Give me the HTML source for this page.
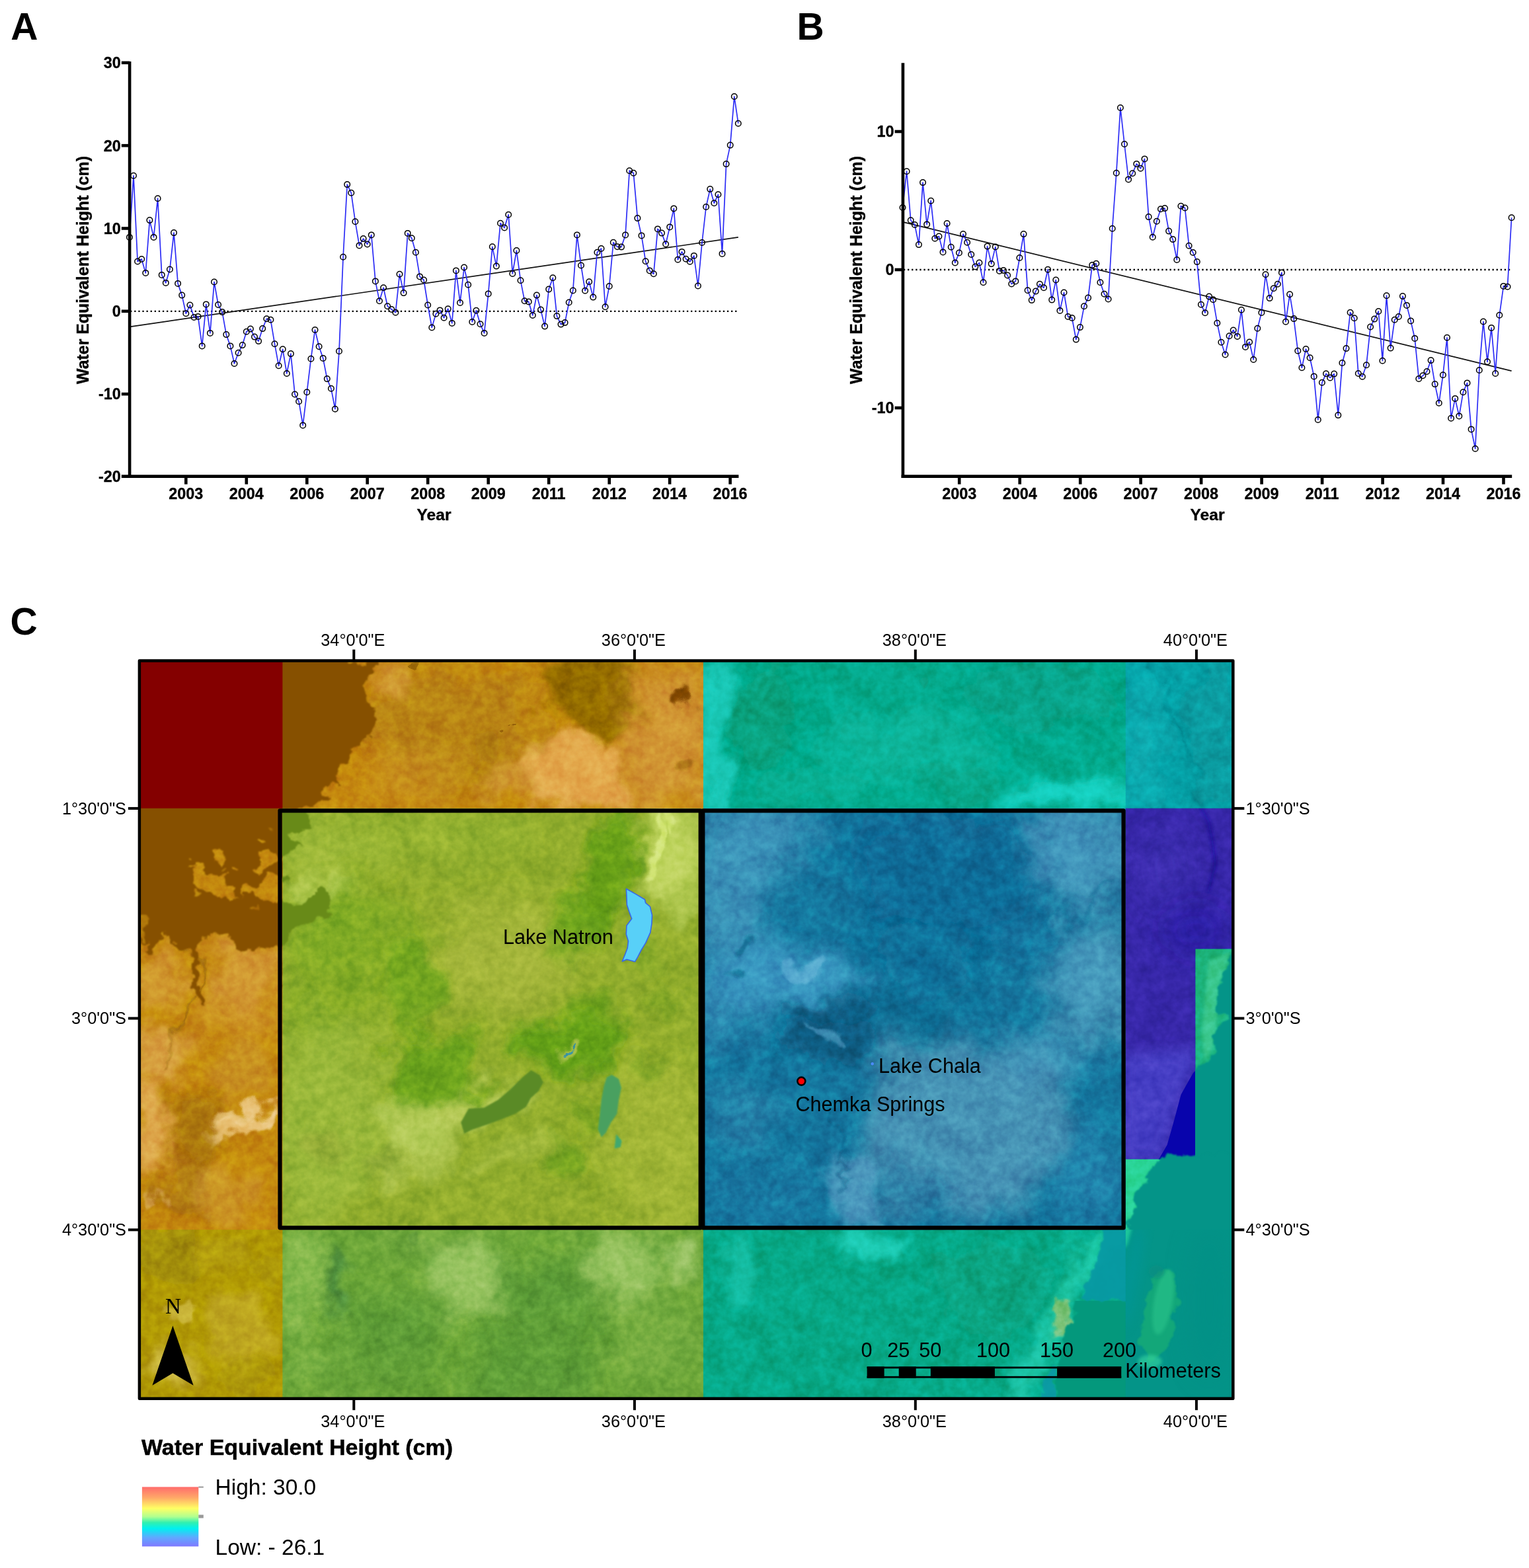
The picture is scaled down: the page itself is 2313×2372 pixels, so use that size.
<!DOCTYPE html>
<html lang="en"><head><meta charset="utf-8"><title>Water Equivalent Height</title>
<style>html,body{margin:0;padding:0;background:#fff}body{width:2313px;height:2372px;overflow:hidden}svg{display:block;filter:blur(0.55px)}</style></head><body>
<svg width="2313" height="2372" viewBox="0 0 2313 2372">
<rect width="2313" height="2372" fill="#fff"/>
<g font-family='"Liberation Sans", Arial, Helvetica, sans-serif' font-weight="700" font-size="57" fill="#000">
<text x="16.3" y="60.4">A</text><text x="1205.6" y="60.4">B</text><text x="15.6" y="960.4">C</text></g>
<g id="chartA">
<line x1="197.1" y1="470.8" x2="1116.8" y2="470.8" stroke="#000" stroke-width="2.3" stroke-dasharray="2.3 3.8"/>
<line x1="196.1" y1="494.4" x2="1116.8" y2="358.9" stroke="#111" stroke-width="1.7"/>
<polyline points="195.9,358.9 202.0,265.8 208.1,395.5 214.2,392.0 220.3,412.9 226.4,333.1 232.5,358.9 238.6,300.2 244.7,415.9 250.8,427.9 256.9,407.5 263.0,352.1 269.1,428.9 275.2,446.6 281.3,474.3 287.4,461.5 293.5,480.0 299.6,478.9 305.7,523.4 311.8,460.4 317.9,503.9 324.0,426.5 330.1,461.0 336.2,472.1 342.3,506.1 348.4,523.4 354.5,550.0 360.6,533.7 366.7,522.1 372.8,501.7 378.9,497.6 385.0,509.6 391.1,516.1 397.2,497.1 403.3,482.2 409.4,483.8 415.5,520.2 421.6,553.3 427.7,528.3 433.8,565.0 439.9,535.1 446.0,596.5 452.1,607.3 458.2,643.4 464.3,593.2 470.4,542.7 476.5,499.0 482.6,524.2 488.7,541.9 494.8,573.1 500.9,587.8 506.9,618.7 513.0,531.3 519.1,388.8 525.2,279.1 531.3,291.8 537.4,335.3 543.5,371.4 549.6,361.1 555.7,369.5 561.8,355.4 567.9,425.4 574.0,455.3 580.1,435.2 586.2,463.2 592.3,468.0 598.4,472.7 604.5,414.8 610.6,443.1 616.7,352.9 622.8,360.2 628.9,381.7 635.0,418.4 641.1,423.5 647.2,461.5 653.3,495.5 659.4,474.8 665.5,469.4 671.6,480.8 677.7,467.2 683.8,488.9 689.9,409.4 696.0,458.0 702.1,404.5 708.2,430.8 714.3,487.0 720.4,469.7 726.5,490.3 732.6,503.9 738.7,444.4 744.8,373.3 750.9,402.6 757.0,337.7 763.1,344.5 769.2,324.7 775.3,414.0 781.4,379.0 787.5,424.3 793.6,455.3 799.7,456.4 805.8,477.0 811.9,446.6 818.0,468.6 824.1,493.6 830.2,437.6 836.3,420.3 842.4,478.1 848.5,490.6 854.6,488.1 860.7,457.5 866.8,439.5 872.9,355.4 879.0,401.5 885.1,439.8 891.2,426.2 897.3,449.6 903.4,381.7 909.5,376.0 915.6,464.2 921.7,433.0 927.8,366.8 933.9,373.3 940.0,373.6 946.1,355.4 952.2,258.2 958.3,261.7 964.4,330.1 970.5,356.4 976.6,395.3 982.7,409.4 988.8,414.3 994.9,346.4 1001.0,352.6 1007.1,369.2 1013.2,343.4 1019.3,315.4 1025.4,392.8 1031.5,380.9 1037.6,391.7 1043.7,395.8 1049.8,386.9 1055.9,432.5 1062.0,367.0 1068.1,313.0 1074.2,286.1 1080.3,307.3 1086.4,294.3 1092.5,383.9 1098.6,248.1 1104.7,219.6 1110.8,146.0 1116.8,186.7" fill="none" stroke="#2c2cf6" stroke-width="1.7" stroke-linejoin="round"/>
<g fill="none" stroke="#000" stroke-width="1.5">
<circle cx="195.9" cy="358.9" r="4.25"/>
<circle cx="202.0" cy="265.8" r="4.25"/>
<circle cx="208.1" cy="395.5" r="4.25"/>
<circle cx="214.2" cy="392.0" r="4.25"/>
<circle cx="220.3" cy="412.9" r="4.25"/>
<circle cx="226.4" cy="333.1" r="4.25"/>
<circle cx="232.5" cy="358.9" r="4.25"/>
<circle cx="238.6" cy="300.2" r="4.25"/>
<circle cx="244.7" cy="415.9" r="4.25"/>
<circle cx="250.8" cy="427.9" r="4.25"/>
<circle cx="256.9" cy="407.5" r="4.25"/>
<circle cx="263.0" cy="352.1" r="4.25"/>
<circle cx="269.1" cy="428.9" r="4.25"/>
<circle cx="275.2" cy="446.6" r="4.25"/>
<circle cx="281.3" cy="474.3" r="4.25"/>
<circle cx="287.4" cy="461.5" r="4.25"/>
<circle cx="293.5" cy="480.0" r="4.25"/>
<circle cx="299.6" cy="478.9" r="4.25"/>
<circle cx="305.7" cy="523.4" r="4.25"/>
<circle cx="311.8" cy="460.4" r="4.25"/>
<circle cx="317.9" cy="503.9" r="4.25"/>
<circle cx="324.0" cy="426.5" r="4.25"/>
<circle cx="330.1" cy="461.0" r="4.25"/>
<circle cx="336.2" cy="472.1" r="4.25"/>
<circle cx="342.3" cy="506.1" r="4.25"/>
<circle cx="348.4" cy="523.4" r="4.25"/>
<circle cx="354.5" cy="550.0" r="4.25"/>
<circle cx="360.6" cy="533.7" r="4.25"/>
<circle cx="366.7" cy="522.1" r="4.25"/>
<circle cx="372.8" cy="501.7" r="4.25"/>
<circle cx="378.9" cy="497.6" r="4.25"/>
<circle cx="385.0" cy="509.6" r="4.25"/>
<circle cx="391.1" cy="516.1" r="4.25"/>
<circle cx="397.2" cy="497.1" r="4.25"/>
<circle cx="403.3" cy="482.2" r="4.25"/>
<circle cx="409.4" cy="483.8" r="4.25"/>
<circle cx="415.5" cy="520.2" r="4.25"/>
<circle cx="421.6" cy="553.3" r="4.25"/>
<circle cx="427.7" cy="528.3" r="4.25"/>
<circle cx="433.8" cy="565.0" r="4.25"/>
<circle cx="439.9" cy="535.1" r="4.25"/>
<circle cx="446.0" cy="596.5" r="4.25"/>
<circle cx="452.1" cy="607.3" r="4.25"/>
<circle cx="458.2" cy="643.4" r="4.25"/>
<circle cx="464.3" cy="593.2" r="4.25"/>
<circle cx="470.4" cy="542.7" r="4.25"/>
<circle cx="476.5" cy="499.0" r="4.25"/>
<circle cx="482.6" cy="524.2" r="4.25"/>
<circle cx="488.7" cy="541.9" r="4.25"/>
<circle cx="494.8" cy="573.1" r="4.25"/>
<circle cx="500.9" cy="587.8" r="4.25"/>
<circle cx="506.9" cy="618.7" r="4.25"/>
<circle cx="513.0" cy="531.3" r="4.25"/>
<circle cx="519.1" cy="388.8" r="4.25"/>
<circle cx="525.2" cy="279.1" r="4.25"/>
<circle cx="531.3" cy="291.8" r="4.25"/>
<circle cx="537.4" cy="335.3" r="4.25"/>
<circle cx="543.5" cy="371.4" r="4.25"/>
<circle cx="549.6" cy="361.1" r="4.25"/>
<circle cx="555.7" cy="369.5" r="4.25"/>
<circle cx="561.8" cy="355.4" r="4.25"/>
<circle cx="567.9" cy="425.4" r="4.25"/>
<circle cx="574.0" cy="455.3" r="4.25"/>
<circle cx="580.1" cy="435.2" r="4.25"/>
<circle cx="586.2" cy="463.2" r="4.25"/>
<circle cx="592.3" cy="468.0" r="4.25"/>
<circle cx="598.4" cy="472.7" r="4.25"/>
<circle cx="604.5" cy="414.8" r="4.25"/>
<circle cx="610.6" cy="443.1" r="4.25"/>
<circle cx="616.7" cy="352.9" r="4.25"/>
<circle cx="622.8" cy="360.2" r="4.25"/>
<circle cx="628.9" cy="381.7" r="4.25"/>
<circle cx="635.0" cy="418.4" r="4.25"/>
<circle cx="641.1" cy="423.5" r="4.25"/>
<circle cx="647.2" cy="461.5" r="4.25"/>
<circle cx="653.3" cy="495.5" r="4.25"/>
<circle cx="659.4" cy="474.8" r="4.25"/>
<circle cx="665.5" cy="469.4" r="4.25"/>
<circle cx="671.6" cy="480.8" r="4.25"/>
<circle cx="677.7" cy="467.2" r="4.25"/>
<circle cx="683.8" cy="488.9" r="4.25"/>
<circle cx="689.9" cy="409.4" r="4.25"/>
<circle cx="696.0" cy="458.0" r="4.25"/>
<circle cx="702.1" cy="404.5" r="4.25"/>
<circle cx="708.2" cy="430.8" r="4.25"/>
<circle cx="714.3" cy="487.0" r="4.25"/>
<circle cx="720.4" cy="469.7" r="4.25"/>
<circle cx="726.5" cy="490.3" r="4.25"/>
<circle cx="732.6" cy="503.9" r="4.25"/>
<circle cx="738.7" cy="444.4" r="4.25"/>
<circle cx="744.8" cy="373.3" r="4.25"/>
<circle cx="750.9" cy="402.6" r="4.25"/>
<circle cx="757.0" cy="337.7" r="4.25"/>
<circle cx="763.1" cy="344.5" r="4.25"/>
<circle cx="769.2" cy="324.7" r="4.25"/>
<circle cx="775.3" cy="414.0" r="4.25"/>
<circle cx="781.4" cy="379.0" r="4.25"/>
<circle cx="787.5" cy="424.3" r="4.25"/>
<circle cx="793.6" cy="455.3" r="4.25"/>
<circle cx="799.7" cy="456.4" r="4.25"/>
<circle cx="805.8" cy="477.0" r="4.25"/>
<circle cx="811.9" cy="446.6" r="4.25"/>
<circle cx="818.0" cy="468.6" r="4.25"/>
<circle cx="824.1" cy="493.6" r="4.25"/>
<circle cx="830.2" cy="437.6" r="4.25"/>
<circle cx="836.3" cy="420.3" r="4.25"/>
<circle cx="842.4" cy="478.1" r="4.25"/>
<circle cx="848.5" cy="490.6" r="4.25"/>
<circle cx="854.6" cy="488.1" r="4.25"/>
<circle cx="860.7" cy="457.5" r="4.25"/>
<circle cx="866.8" cy="439.5" r="4.25"/>
<circle cx="872.9" cy="355.4" r="4.25"/>
<circle cx="879.0" cy="401.5" r="4.25"/>
<circle cx="885.1" cy="439.8" r="4.25"/>
<circle cx="891.2" cy="426.2" r="4.25"/>
<circle cx="897.3" cy="449.6" r="4.25"/>
<circle cx="903.4" cy="381.7" r="4.25"/>
<circle cx="909.5" cy="376.0" r="4.25"/>
<circle cx="915.6" cy="464.2" r="4.25"/>
<circle cx="921.7" cy="433.0" r="4.25"/>
<circle cx="927.8" cy="366.8" r="4.25"/>
<circle cx="933.9" cy="373.3" r="4.25"/>
<circle cx="940.0" cy="373.6" r="4.25"/>
<circle cx="946.1" cy="355.4" r="4.25"/>
<circle cx="952.2" cy="258.2" r="4.25"/>
<circle cx="958.3" cy="261.7" r="4.25"/>
<circle cx="964.4" cy="330.1" r="4.25"/>
<circle cx="970.5" cy="356.4" r="4.25"/>
<circle cx="976.6" cy="395.3" r="4.25"/>
<circle cx="982.7" cy="409.4" r="4.25"/>
<circle cx="988.8" cy="414.3" r="4.25"/>
<circle cx="994.9" cy="346.4" r="4.25"/>
<circle cx="1001.0" cy="352.6" r="4.25"/>
<circle cx="1007.1" cy="369.2" r="4.25"/>
<circle cx="1013.2" cy="343.4" r="4.25"/>
<circle cx="1019.3" cy="315.4" r="4.25"/>
<circle cx="1025.4" cy="392.8" r="4.25"/>
<circle cx="1031.5" cy="380.9" r="4.25"/>
<circle cx="1037.6" cy="391.7" r="4.25"/>
<circle cx="1043.7" cy="395.8" r="4.25"/>
<circle cx="1049.8" cy="386.9" r="4.25"/>
<circle cx="1055.9" cy="432.5" r="4.25"/>
<circle cx="1062.0" cy="367.0" r="4.25"/>
<circle cx="1068.1" cy="313.0" r="4.25"/>
<circle cx="1074.2" cy="286.1" r="4.25"/>
<circle cx="1080.3" cy="307.3" r="4.25"/>
<circle cx="1086.4" cy="294.3" r="4.25"/>
<circle cx="1092.5" cy="383.9" r="4.25"/>
<circle cx="1098.6" cy="248.1" r="4.25"/>
<circle cx="1104.7" cy="219.6" r="4.25"/>
<circle cx="1110.8" cy="146.0" r="4.25"/>
<circle cx="1116.8" cy="186.7" r="4.25"/>
</g>
<g stroke="#000" stroke-width="4.6" fill="none">
<path d="M196.1 93.1 V722.9"/>
<path d="M183.8 720.6 H1117.4"/>
<path d="M183.8 94.9 H196.1"/>
<path d="M183.8 220.2 H196.1"/>
<path d="M183.8 345.5 H196.1"/>
<path d="M183.8 470.8 H196.1"/>
<path d="M183.8 596.1 H196.1"/>
<path d="M281.3 720.6 V732.6"/>
<path d="M372.8 720.6 V732.6"/>
<path d="M464.3 720.6 V732.6"/>
<path d="M555.7 720.6 V732.6"/>
<path d="M647.2 720.6 V732.6"/>
<path d="M738.7 720.6 V732.6"/>
<path d="M830.2 720.6 V732.6"/>
<path d="M921.7 720.6 V732.6"/>
<path d="M1013.1 720.6 V732.6"/>
<path d="M1104.6 720.6 V732.6"/>
</g>
<g font-family='"Liberation Sans", Arial, Helvetica, sans-serif' font-weight="700" font-size="23.4" fill="#000" stroke="#000" stroke-width="0.35">
<text x="182.7" y="103.2" text-anchor="end">30</text>
<text x="182.7" y="228.5" text-anchor="end">20</text>
<text x="182.7" y="353.8" text-anchor="end">10</text>
<text x="182.7" y="479.1" text-anchor="end">0</text>
<text x="182.7" y="604.4" text-anchor="end">-10</text>
<text x="182.7" y="728.9" text-anchor="end">-20</text>
<text x="281.3" y="755.2" text-anchor="middle">2003</text>
<text x="372.8" y="755.2" text-anchor="middle">2004</text>
<text x="464.3" y="755.2" text-anchor="middle">2006</text>
<text x="555.7" y="755.2" text-anchor="middle">2007</text>
<text x="647.2" y="755.2" text-anchor="middle">2008</text>
<text x="738.7" y="755.2" text-anchor="middle">2009</text>
<text x="830.2" y="755.2" text-anchor="middle">2011</text>
<text x="921.7" y="755.2" text-anchor="middle">2012</text>
<text x="1013.1" y="755.2" text-anchor="middle">2014</text>
<text x="1104.6" y="755.2" text-anchor="middle">2016</text>
</g>
<text x="656.5" y="786.9" text-anchor="middle" font-family='"Liberation Sans", Arial, Helvetica, sans-serif' font-weight="700" font-size="24.6" fill="#000" stroke="#000" stroke-width="0.35">Year</text>
<text transform="translate(133.5 408.5) rotate(-90)" text-anchor="middle" font-family='"Liberation Sans", Arial, Helvetica, sans-serif' font-weight="700" font-size="24.9" fill="#000" stroke="#000" stroke-width="0.35">Water Equivalent Height (cm)</text>
</g>
<g id="chartB">
<line x1="1366.9" y1="408.0" x2="2286.6" y2="408.0" stroke="#000" stroke-width="2.3" stroke-dasharray="2.3 3.8"/>
<line x1="1365.9" y1="335.8" x2="2286.6" y2="561.1" stroke="#111" stroke-width="1.7"/>
<polyline points="1365.5,314.0 1371.6,259.2 1377.7,333.3 1383.8,340.0 1389.9,370.1 1396.0,276.1 1402.1,339.4 1408.2,303.7 1414.3,360.7 1420.4,357.6 1426.5,381.4 1432.6,338.0 1438.7,373.7 1444.8,397.5 1450.9,382.5 1457.0,354.1 1463.1,366.8 1469.2,385.0 1475.3,403.5 1481.4,397.5 1487.5,427.3 1493.6,372.6 1499.7,399.1 1505.8,373.4 1511.9,409.9 1518.0,409.1 1524.1,416.5 1530.2,429.5 1536.3,425.4 1542.4,390.0 1548.5,354.1 1554.6,439.2 1560.7,454.1 1566.8,440.6 1572.9,429.8 1579.0,435.3 1585.1,407.7 1591.2,453.6 1597.3,423.5 1603.4,469.9 1609.5,442.5 1615.6,479.0 1621.7,481.0 1627.8,513.6 1633.9,495.1 1640.0,463.3 1646.1,450.6 1652.2,401.1 1658.3,398.8 1664.4,427.3 1670.5,444.7 1676.6,452.5 1682.7,345.8 1688.8,261.7 1694.9,163.0 1701.0,218.0 1707.1,271.4 1713.2,262.3 1719.3,247.9 1725.4,254.8 1731.5,240.4 1737.6,328.1 1743.7,358.8 1749.8,334.7 1755.9,316.2 1762.0,315.1 1768.1,349.6 1774.2,362.1 1780.3,393.0 1786.4,311.7 1792.5,314.5 1798.6,371.7 1804.7,382.0 1810.8,396.1 1816.9,460.8 1823.0,473.2 1829.1,448.6 1835.2,453.3 1841.3,488.7 1847.4,517.7 1853.5,536.5 1859.6,508.3 1865.7,499.5 1871.8,508.9 1877.9,468.8 1884.0,524.9 1890.1,517.5 1896.2,544.0 1902.3,496.7 1908.4,472.9 1914.5,415.2 1920.6,451.1 1926.7,436.2 1932.8,429.8 1938.9,412.4 1945.0,486.8 1951.1,445.3 1957.2,482.1 1963.3,530.7 1969.4,556.2 1975.5,528.0 1981.6,541.2 1987.7,569.4 1993.8,635.0 1999.9,578.8 2006.0,565.3 2012.1,571.4 2018.2,565.6 2024.3,628.1 2030.4,549.0 2036.5,527.1 2042.6,472.7 2048.7,481.2 2054.8,565.0 2060.9,569.7 2067.0,552.3 2073.1,494.5 2079.2,482.6 2085.3,471.0 2091.4,545.7 2097.5,447.2 2103.6,526.6 2109.7,483.7 2115.8,479.0 2121.9,448.1 2128.0,461.9 2134.1,485.4 2140.2,511.9 2146.3,573.0 2152.4,568.3 2158.5,562.0 2164.6,545.1 2170.7,581.1 2176.8,609.8 2182.9,567.2 2189.0,510.8 2195.1,632.8 2201.2,602.9 2207.3,629.4 2213.4,593.2 2219.5,579.4 2225.6,649.4 2231.7,678.7 2237.8,560.0 2243.9,486.5 2250.0,547.3 2256.1,495.9 2262.2,565.0 2268.3,476.8 2274.4,432.9 2280.5,433.7 2286.6,329.2" fill="none" stroke="#2c2cf6" stroke-width="1.7" stroke-linejoin="round"/>
<g fill="none" stroke="#000" stroke-width="1.5">
<circle cx="1365.5" cy="314.0" r="4.25"/>
<circle cx="1371.6" cy="259.2" r="4.25"/>
<circle cx="1377.7" cy="333.3" r="4.25"/>
<circle cx="1383.8" cy="340.0" r="4.25"/>
<circle cx="1389.9" cy="370.1" r="4.25"/>
<circle cx="1396.0" cy="276.1" r="4.25"/>
<circle cx="1402.1" cy="339.4" r="4.25"/>
<circle cx="1408.2" cy="303.7" r="4.25"/>
<circle cx="1414.3" cy="360.7" r="4.25"/>
<circle cx="1420.4" cy="357.6" r="4.25"/>
<circle cx="1426.5" cy="381.4" r="4.25"/>
<circle cx="1432.6" cy="338.0" r="4.25"/>
<circle cx="1438.7" cy="373.7" r="4.25"/>
<circle cx="1444.8" cy="397.5" r="4.25"/>
<circle cx="1450.9" cy="382.5" r="4.25"/>
<circle cx="1457.0" cy="354.1" r="4.25"/>
<circle cx="1463.1" cy="366.8" r="4.25"/>
<circle cx="1469.2" cy="385.0" r="4.25"/>
<circle cx="1475.3" cy="403.5" r="4.25"/>
<circle cx="1481.4" cy="397.5" r="4.25"/>
<circle cx="1487.5" cy="427.3" r="4.25"/>
<circle cx="1493.6" cy="372.6" r="4.25"/>
<circle cx="1499.7" cy="399.1" r="4.25"/>
<circle cx="1505.8" cy="373.4" r="4.25"/>
<circle cx="1511.9" cy="409.9" r="4.25"/>
<circle cx="1518.0" cy="409.1" r="4.25"/>
<circle cx="1524.1" cy="416.5" r="4.25"/>
<circle cx="1530.2" cy="429.5" r="4.25"/>
<circle cx="1536.3" cy="425.4" r="4.25"/>
<circle cx="1542.4" cy="390.0" r="4.25"/>
<circle cx="1548.5" cy="354.1" r="4.25"/>
<circle cx="1554.6" cy="439.2" r="4.25"/>
<circle cx="1560.7" cy="454.1" r="4.25"/>
<circle cx="1566.8" cy="440.6" r="4.25"/>
<circle cx="1572.9" cy="429.8" r="4.25"/>
<circle cx="1579.0" cy="435.3" r="4.25"/>
<circle cx="1585.1" cy="407.7" r="4.25"/>
<circle cx="1591.2" cy="453.6" r="4.25"/>
<circle cx="1597.3" cy="423.5" r="4.25"/>
<circle cx="1603.4" cy="469.9" r="4.25"/>
<circle cx="1609.5" cy="442.5" r="4.25"/>
<circle cx="1615.6" cy="479.0" r="4.25"/>
<circle cx="1621.7" cy="481.0" r="4.25"/>
<circle cx="1627.8" cy="513.6" r="4.25"/>
<circle cx="1633.9" cy="495.1" r="4.25"/>
<circle cx="1640.0" cy="463.3" r="4.25"/>
<circle cx="1646.1" cy="450.6" r="4.25"/>
<circle cx="1652.2" cy="401.1" r="4.25"/>
<circle cx="1658.3" cy="398.8" r="4.25"/>
<circle cx="1664.4" cy="427.3" r="4.25"/>
<circle cx="1670.5" cy="444.7" r="4.25"/>
<circle cx="1676.6" cy="452.5" r="4.25"/>
<circle cx="1682.7" cy="345.8" r="4.25"/>
<circle cx="1688.8" cy="261.7" r="4.25"/>
<circle cx="1694.9" cy="163.0" r="4.25"/>
<circle cx="1701.0" cy="218.0" r="4.25"/>
<circle cx="1707.1" cy="271.4" r="4.25"/>
<circle cx="1713.2" cy="262.3" r="4.25"/>
<circle cx="1719.3" cy="247.9" r="4.25"/>
<circle cx="1725.4" cy="254.8" r="4.25"/>
<circle cx="1731.5" cy="240.4" r="4.25"/>
<circle cx="1737.6" cy="328.1" r="4.25"/>
<circle cx="1743.7" cy="358.8" r="4.25"/>
<circle cx="1749.8" cy="334.7" r="4.25"/>
<circle cx="1755.9" cy="316.2" r="4.25"/>
<circle cx="1762.0" cy="315.1" r="4.25"/>
<circle cx="1768.1" cy="349.6" r="4.25"/>
<circle cx="1774.2" cy="362.1" r="4.25"/>
<circle cx="1780.3" cy="393.0" r="4.25"/>
<circle cx="1786.4" cy="311.7" r="4.25"/>
<circle cx="1792.5" cy="314.5" r="4.25"/>
<circle cx="1798.6" cy="371.7" r="4.25"/>
<circle cx="1804.7" cy="382.0" r="4.25"/>
<circle cx="1810.8" cy="396.1" r="4.25"/>
<circle cx="1816.9" cy="460.8" r="4.25"/>
<circle cx="1823.0" cy="473.2" r="4.25"/>
<circle cx="1829.1" cy="448.6" r="4.25"/>
<circle cx="1835.2" cy="453.3" r="4.25"/>
<circle cx="1841.3" cy="488.7" r="4.25"/>
<circle cx="1847.4" cy="517.7" r="4.25"/>
<circle cx="1853.5" cy="536.5" r="4.25"/>
<circle cx="1859.6" cy="508.3" r="4.25"/>
<circle cx="1865.7" cy="499.5" r="4.25"/>
<circle cx="1871.8" cy="508.9" r="4.25"/>
<circle cx="1877.9" cy="468.8" r="4.25"/>
<circle cx="1884.0" cy="524.9" r="4.25"/>
<circle cx="1890.1" cy="517.5" r="4.25"/>
<circle cx="1896.2" cy="544.0" r="4.25"/>
<circle cx="1902.3" cy="496.7" r="4.25"/>
<circle cx="1908.4" cy="472.9" r="4.25"/>
<circle cx="1914.5" cy="415.2" r="4.25"/>
<circle cx="1920.6" cy="451.1" r="4.25"/>
<circle cx="1926.7" cy="436.2" r="4.25"/>
<circle cx="1932.8" cy="429.8" r="4.25"/>
<circle cx="1938.9" cy="412.4" r="4.25"/>
<circle cx="1945.0" cy="486.8" r="4.25"/>
<circle cx="1951.1" cy="445.3" r="4.25"/>
<circle cx="1957.2" cy="482.1" r="4.25"/>
<circle cx="1963.3" cy="530.7" r="4.25"/>
<circle cx="1969.4" cy="556.2" r="4.25"/>
<circle cx="1975.5" cy="528.0" r="4.25"/>
<circle cx="1981.6" cy="541.2" r="4.25"/>
<circle cx="1987.7" cy="569.4" r="4.25"/>
<circle cx="1993.8" cy="635.0" r="4.25"/>
<circle cx="1999.9" cy="578.8" r="4.25"/>
<circle cx="2006.0" cy="565.3" r="4.25"/>
<circle cx="2012.1" cy="571.4" r="4.25"/>
<circle cx="2018.2" cy="565.6" r="4.25"/>
<circle cx="2024.3" cy="628.1" r="4.25"/>
<circle cx="2030.4" cy="549.0" r="4.25"/>
<circle cx="2036.5" cy="527.1" r="4.25"/>
<circle cx="2042.6" cy="472.7" r="4.25"/>
<circle cx="2048.7" cy="481.2" r="4.25"/>
<circle cx="2054.8" cy="565.0" r="4.25"/>
<circle cx="2060.9" cy="569.7" r="4.25"/>
<circle cx="2067.0" cy="552.3" r="4.25"/>
<circle cx="2073.1" cy="494.5" r="4.25"/>
<circle cx="2079.2" cy="482.6" r="4.25"/>
<circle cx="2085.3" cy="471.0" r="4.25"/>
<circle cx="2091.4" cy="545.7" r="4.25"/>
<circle cx="2097.5" cy="447.2" r="4.25"/>
<circle cx="2103.6" cy="526.6" r="4.25"/>
<circle cx="2109.7" cy="483.7" r="4.25"/>
<circle cx="2115.8" cy="479.0" r="4.25"/>
<circle cx="2121.9" cy="448.1" r="4.25"/>
<circle cx="2128.0" cy="461.9" r="4.25"/>
<circle cx="2134.1" cy="485.4" r="4.25"/>
<circle cx="2140.2" cy="511.9" r="4.25"/>
<circle cx="2146.3" cy="573.0" r="4.25"/>
<circle cx="2152.4" cy="568.3" r="4.25"/>
<circle cx="2158.5" cy="562.0" r="4.25"/>
<circle cx="2164.6" cy="545.1" r="4.25"/>
<circle cx="2170.7" cy="581.1" r="4.25"/>
<circle cx="2176.8" cy="609.8" r="4.25"/>
<circle cx="2182.9" cy="567.2" r="4.25"/>
<circle cx="2189.0" cy="510.8" r="4.25"/>
<circle cx="2195.1" cy="632.8" r="4.25"/>
<circle cx="2201.2" cy="602.9" r="4.25"/>
<circle cx="2207.3" cy="629.4" r="4.25"/>
<circle cx="2213.4" cy="593.2" r="4.25"/>
<circle cx="2219.5" cy="579.4" r="4.25"/>
<circle cx="2225.6" cy="649.4" r="4.25"/>
<circle cx="2231.7" cy="678.7" r="4.25"/>
<circle cx="2237.8" cy="560.0" r="4.25"/>
<circle cx="2243.9" cy="486.5" r="4.25"/>
<circle cx="2250.0" cy="547.3" r="4.25"/>
<circle cx="2256.1" cy="495.9" r="4.25"/>
<circle cx="2262.2" cy="565.0" r="4.25"/>
<circle cx="2268.3" cy="476.8" r="4.25"/>
<circle cx="2274.4" cy="432.9" r="4.25"/>
<circle cx="2280.5" cy="433.7" r="4.25"/>
<circle cx="2286.6" cy="329.2" r="4.25"/>
</g>
<g stroke="#000" stroke-width="4.6" fill="none">
<path d="M1365.9 95.3 V722.9"/>
<path d="M1363.6 720.6 H2287.2"/>
<path d="M1353.6 199.0 H1365.9"/>
<path d="M1353.6 408.0 H1365.9"/>
<path d="M1353.6 617.0 H1365.9"/>
<path d="M1451.2 720.6 V732.6"/>
<path d="M1542.7 720.6 V732.6"/>
<path d="M1634.2 720.6 V732.6"/>
<path d="M1725.6 720.6 V732.6"/>
<path d="M1817.1 720.6 V732.6"/>
<path d="M1908.6 720.6 V732.6"/>
<path d="M2000.1 720.6 V732.6"/>
<path d="M2091.6 720.6 V732.6"/>
<path d="M2183.0 720.6 V732.6"/>
<path d="M2274.5 720.6 V732.6"/>
</g>
<g font-family='"Liberation Sans", Arial, Helvetica, sans-serif' font-weight="700" font-size="23.4" fill="#000" stroke="#000" stroke-width="0.35">
<text x="1352.5" y="207.3" text-anchor="end">10</text>
<text x="1352.5" y="416.3" text-anchor="end">0</text>
<text x="1352.5" y="625.3" text-anchor="end">-10</text>
<text x="1451.2" y="755.2" text-anchor="middle">2003</text>
<text x="1542.7" y="755.2" text-anchor="middle">2004</text>
<text x="1634.2" y="755.2" text-anchor="middle">2006</text>
<text x="1725.6" y="755.2" text-anchor="middle">2007</text>
<text x="1817.1" y="755.2" text-anchor="middle">2008</text>
<text x="1908.6" y="755.2" text-anchor="middle">2009</text>
<text x="2000.1" y="755.2" text-anchor="middle">2011</text>
<text x="2091.6" y="755.2" text-anchor="middle">2012</text>
<text x="2183.0" y="755.2" text-anchor="middle">2014</text>
<text x="2274.5" y="755.2" text-anchor="middle">2016</text>
</g>
<text x="1826.5" y="786.9" text-anchor="middle" font-family='"Liberation Sans", Arial, Helvetica, sans-serif' font-weight="700" font-size="24.6" fill="#000" stroke="#000" stroke-width="0.35">Year</text>
<text transform="translate(1303.5 408.5) rotate(-90)" text-anchor="middle" font-family='"Liberation Sans", Arial, Helvetica, sans-serif' font-weight="700" font-size="24.9" fill="#000" stroke="#000" stroke-width="0.35">Water Equivalent Height (cm)</text>
</g>
<defs>
<filter id="b0" x="-10%" y="-10%" width="120%" height="120%"><feGaussianBlur stdDeviation="1.2"/></filter>
<filter id="b1" x="-20%" y="-20%" width="140%" height="140%"><feGaussianBlur stdDeviation="2.5"/></filter>
<filter id="b2" x="-40%" y="-40%" width="180%" height="180%"><feGaussianBlur stdDeviation="9"/></filter>
<filter id="b3" x="-60%" y="-60%" width="220%" height="220%"><feGaussianBlur stdDeviation="20"/></filter>
<filter id="b4" x="-80%" y="-80%" width="260%" height="260%"><feGaussianBlur stdDeviation="40"/></filter>
<filter id="nz" x="0" y="0" width="100%" height="100%" color-interpolation-filters="sRGB">
<feTurbulence type="fractalNoise" baseFrequency="0.028" numOctaves="5" seed="11"/>
<feColorMatrix type="matrix" values="1.8 0 0 0 -0.4  1.8 0 0 0 -0.4  1.8 0 0 0 -0.4  0 0 0 0 1"/>
</filter>
<filter id="nz2" x="0" y="0" width="100%" height="100%" color-interpolation-filters="sRGB">
<feTurbulence type="fractalNoise" baseFrequency="0.09" numOctaves="3" seed="4"/>
<feColorMatrix type="matrix" values="0 1.8 0 0 -0.4  0 1.8 0 0 -0.4  0 1.8 0 0 -0.4  0 0 0 0 1"/>
</filter>
<filter id="tex" x="0" y="0" width="100%" height="100%" color-interpolation-filters="sRGB">
<feTurbulence type="fractalNoise" baseFrequency="0.045" numOctaves="4" seed="11" result="n"/>
<feColorMatrix in="n" type="matrix" values="0.7 0.7 0 0 -0.2  0.7 0.7 0 0 -0.2  0.7 0.7 0 0 -0.2  0 0 0 0 1" result="g"/>
<feComposite in="SourceGraphic" in2="g" operator="arithmetic" k1="0.5" k2="0.75" k3="0" k4="0"/>
</filter>
<filter id="warp" x="0" y="0" width="100%" height="100%" color-interpolation-filters="sRGB">
<feTurbulence type="fractalNoise" baseFrequency="0.016" numOctaves="4" seed="9" result="t"/>
<feDisplacementMap in="SourceGraphic" in2="t" scale="75" xChannelSelector="R" yChannelSelector="G"/>
</filter>
<filter id="rough" x="-5%" y="-5%" width="110%" height="110%" color-interpolation-filters="sRGB">
<feTurbulence type="fractalNoise" baseFrequency="0.05" numOctaves="4" seed="5" result="t"/>
<feDisplacementMap in="SourceGraphic" in2="t" scale="22" xChannelSelector="R" yChannelSelector="G" result="d"/>
<feGaussianBlur in="d" stdDeviation="0.9"/>
</filter>
<linearGradient id="ramp" x1="0" y1="0" x2="0" y2="1">
<stop offset="0" stop-color="#ff6c6c"/><stop offset="0.18" stop-color="#ffa868"/><stop offset="0.36" stop-color="#ffff64"/>
<stop offset="0.5" stop-color="#b0ff90"/><stop offset="0.6" stop-color="#30f0b0"/><stop offset="0.7" stop-color="#00f0f0"/>
<stop offset="0.85" stop-color="#60a8ff"/><stop offset="1" stop-color="#8078ff"/>
</linearGradient>
<clipPath id="mapclip"><rect x="210.9" y="999.6" width="1654.4" height="1116.1"/></clipPath>
</defs>
<g id="map">
<g clip-path="url(#mapclip)" style="isolation:isolate">
<clipPath id="c1"><rect x="427.4" y="999.6" width="637.5" height="224.2"/></clipPath>
<g clip-path="url(#c1)">
<g filter="url(#warp)">
<rect x="367.4" y="939.6" width="756.5" height="343.2" fill="#c4860e"/>
<path d="M824.0 994.6 L958.0 994.6 L948.8 1082.4 L921.0 1110.2 L865.6 1096.3 L828.6 1059.3Z" fill="#8e6a02" opacity="0.9" filter="url(#b2)"/>
<path d="M810.1 1119.4 L884.0 1105.5 L939.5 1142.5 L948.8 1230.3 L800.9 1230.3 L791.6 1174.9Z" fill="#e6ae58" opacity="0.85" filter="url(#b2)"/>
<path d="M948.8 1017.7 L1078.2 1017.7 L1078.2 1230.3 L962.6 1230.3 L939.5 1128.7Z" fill="#d2963a" opacity="0.65" filter="url(#b3)"/>
<path d="M569.8 1036.2 L800.9 1017.7 L814.7 1105.5 L777.7 1198.0 L616.0 1151.8 L569.8 1105.5Z" fill="#b68212" opacity="0.6" filter="url(#b3)"/>
<ellipse cx="685.3" cy="1105.5" rx="129.4" ry="101.7" fill="#b88416" opacity="0.6" filter="url(#b3)"/>
<ellipse cx="884.0" cy="1050.1" rx="60.1" ry="46.2" fill="#946c04" opacity="0.9" filter="url(#b2)"/>
<ellipse cx="921.0" cy="1087.1" rx="27.7" ry="23.1" fill="#946c04" opacity="0.7" filter="url(#b2)"/>
<ellipse cx="870.2" cy="1165.6" rx="64.7" ry="50.8" fill="#e4a84c" opacity="0.9" filter="url(#b2)"/>
<ellipse cx="777.7" cy="1188.7" rx="46.2" ry="27.7" fill="#d8a040" opacity="0.6" filter="url(#b2)"/>
<ellipse cx="999.6" cy="1128.7" rx="55.5" ry="92.4" fill="#d49838" opacity="0.6" filter="url(#b3)"/>
<ellipse cx="592.9" cy="1027.0" rx="32.4" ry="23.1" fill="#d8a040" opacity="0.7" filter="url(#b2)"/>
<ellipse cx="616.0" cy="1174.9" rx="69.3" ry="41.6" fill="#cc9428" opacity="0.5" filter="url(#b3)"/>
<ellipse cx="731.5" cy="1128.7" rx="27.7" ry="37.0" fill="#a87810" opacity="0.6" filter="url(#b2)"/>
<ellipse cx="1041.2" cy="1151.8" rx="18.5" ry="13.9" fill="#a06c0c" opacity="0.6" filter="url(#b1)"/>
<ellipse cx="1031.9" cy="1066.3" rx="14.8" ry="10.2" fill="#844804" filter="url(#b1)" transform="rotate(-15 1031.9 1066.3)"/>
<ellipse cx="773.1" cy="1094.0" rx="5.5" ry="4.2" fill="#8c5808" opacity="0.9" transform="rotate(30 773.1 1094.0)"/>
<ellipse cx="794.8" cy="1089.4" rx="4.2" ry="3.2" fill="#8c5808" opacity="0.9"/>
<ellipse cx="629.8" cy="1008.5" rx="11.6" ry="5.5" fill="#8c5c04" opacity="0.8"/>
</g>
</g>
<clipPath id="c3"><rect x="1063.9" y="999.6" width="639.9" height="224.2"/></clipPath>
<g clip-path="url(#c3)">
<g filter="url(#warp)">
<rect x="1003.9" y="939.6" width="758.9" height="343.2" fill="#04aa8c"/>
<path d="M1106.3 1003.9 L1221.9 1003.9 L1212.6 1105.5 L1175.6 1165.6 L1110.9 1151.8Z" fill="#06a07a" opacity="0.75" filter="url(#b3)"/>
<path d="M1462.2 999.2 L1721.0 999.2 L1721.0 1105.5 L1554.6 1119.4 L1485.3 1082.4Z" fill="#06a488" opacity="0.6" filter="url(#b3)"/>
<path d="M1531.5 1184.1 L1721.0 1174.9 L1721.0 1230.3 L1508.4 1230.3Z" fill="#12d0c0" opacity="0.75" filter="url(#b2)"/>
<path d="M1046.2 999.2 L1101.7 999.2 L1097.1 1230.3 L1046.2 1230.3Z" fill="#1accbc" opacity="0.75" filter="url(#b2)"/>
<ellipse cx="1083.2" cy="1105.5" rx="20.8" ry="115.5" fill="#1cccbc" opacity="0.7" filter="url(#b2)"/>
<ellipse cx="1157.1" cy="1082.4" rx="50.8" ry="78.6" fill="#08a07c" opacity="0.7" filter="url(#b3)"/>
<ellipse cx="1369.8" cy="1128.7" rx="129.4" ry="46.2" fill="#14c0a8" opacity="0.5" filter="url(#b3)"/>
<ellipse cx="1577.7" cy="1054.7" rx="115.5" ry="50.8" fill="#08a48c" opacity="0.6" filter="url(#b3)"/>
<ellipse cx="1624.0" cy="1207.2" rx="92.4" ry="18.5" fill="#14d4c4" opacity="0.7" filter="url(#b2)"/>
<ellipse cx="1231.1" cy="1188.7" rx="92.4" ry="27.7" fill="#10b89c" opacity="0.5" filter="url(#b3)"/>
<ellipse cx="1462.2" cy="1184.1" rx="69.3" ry="32.4" fill="#08a484" opacity="0.5" filter="url(#b3)"/>
<ellipse cx="1381.3" cy="1017.7" rx="11.6" ry="13.9" fill="#08a080" opacity="0.7" filter="url(#b1)"/>
</g>
</g>
<clipPath id="c4"><rect x="1702.8" y="999.6" width="163.5" height="224.2"/></clipPath>
<g clip-path="url(#c4)">
<g filter="url(#warp)">
<rect x="1642.8" y="939.6" width="282.5" height="343.2" fill="#06a2a8"/>
<ellipse cx="1831.9" cy="1105.5" rx="32.4" ry="115.5" fill="#0c9094" opacity="0.6" filter="url(#b3)"/>
<ellipse cx="1730.3" cy="1128.7" rx="27.7" ry="92.4" fill="#14b4b8" opacity="0.5" filter="url(#b3)"/>
<path d="M1730.9 1003.6 L1744.0 1024.6 L1762.4 1040.4 L1772.9 1074.5 L1783.4 1111.3 L1796.6 1150.7 L1809.7 1184.8 L1822.8 1222.9" fill="none" stroke="#087c84" stroke-width="3" stroke-linecap="round" stroke-linejoin="round" opacity="0.7" filter="url(#b1)"/>
</g>
</g>
<clipPath id="c5"><rect x="210.9" y="1222.8" width="217.5" height="638.5"/></clipPath>
<g clip-path="url(#c5)">
<g filter="url(#warp)">
<rect x="150.9" y="1162.8" width="336.5" height="757.5" fill="#c4880e"/>
<path d="M246.2 1656.3 L347.9 1660.9 L338.7 1758.0 L292.4 1836.6 L237.0 1827.3 L255.5 1734.9Z" fill="#a8720c" opacity="0.65" filter="url(#b2)"/>
<path d="M200.0 1642.4 L250.8 1651.7 L246.2 1758.0 L200.0 1771.9Z" fill="#dea64c" opacity="0.75" filter="url(#b2)"/>
<path d="M200.0 1550.0 L292.4 1550.0 L283.2 1642.4 L200.0 1642.4Z" fill="#d8a044" opacity="0.6" filter="url(#b2)"/>
<path d="M315.5 1419.8 L431.1 1419.8 L431.1 1567.7 L306.3 1567.7Z" fill="#d49a38" opacity="0.5" filter="url(#b3)"/>
<ellipse cx="371.0" cy="1695.6" rx="53.2" ry="11.1" fill="#f0cc88" opacity="0.85" filter="url(#b1)" transform="rotate(-30 371.0 1695.6)"/>
<ellipse cx="352.5" cy="1688.7" rx="18.5" ry="10.2" fill="#f4d89c" opacity="0.7" filter="url(#b1)" transform="rotate(-30 352.5 1688.7)"/>
<ellipse cx="329.4" cy="1718.7" rx="20.8" ry="7.4" fill="#f0cc88" opacity="0.6" filter="url(#b1)" transform="rotate(-30 329.4 1718.7)"/>
<ellipse cx="232.4" cy="1702.5" rx="23.1" ry="55.5" fill="#e0a850" opacity="0.7" filter="url(#b2)"/>
<ellipse cx="241.6" cy="1596.2" rx="32.4" ry="41.6" fill="#dca448" opacity="0.6" filter="url(#b2)"/>
<ellipse cx="301.7" cy="1711.8" rx="37.0" ry="46.2" fill="#a87410" opacity="0.7" filter="url(#b2)"/>
<ellipse cx="278.6" cy="1790.3" rx="41.6" ry="37.0" fill="#b07c14" opacity="0.6" filter="url(#b2)"/>
<ellipse cx="361.8" cy="1619.3" rx="46.2" ry="46.2" fill="#cc9830" opacity="0.5" filter="url(#b2)"/>
<ellipse cx="338.7" cy="1804.2" rx="55.5" ry="37.0" fill="#d09c38" opacity="0.5" filter="url(#b2)"/>
<ellipse cx="241.6" cy="1820.4" rx="10.2" ry="10.2" fill="#e8c080" opacity="0.45" filter="url(#b1)"/>
<ellipse cx="246.2" cy="1475.3" rx="32.4" ry="46.2" fill="#d8a040" opacity="0.6" filter="url(#b2)"/>
<ellipse cx="361.8" cy="1475.3" rx="46.2" ry="46.2" fill="#d8a040" opacity="0.5" filter="url(#b2)"/>
<path d="M294.7 1433.7 L298.0 1475.3 L285.5 1512.3 L269.3 1544.6 L264.7 1559.9" fill="none" stroke="#8c5c08" stroke-width="5" stroke-linecap="round" stroke-linejoin="round" opacity="0.75" filter="url(#b1)"/>
<path d="M264.7 1550.0 L255.5 1577.7 L246.2 1610.1" fill="none" stroke="#94640c" stroke-width="4" stroke-linecap="round" stroke-linejoin="round" opacity="0.6" filter="url(#b1)"/>
</g>
</g>
<clipPath id="c7"><rect x="427.4" y="1222.8" width="637.5" height="638.5"/></clipPath>
<g clip-path="url(#c7)">
<g filter="url(#warp)">
<rect x="367.4" y="1162.8" width="756.5" height="757.5" fill="#90ac2c"/>
<path d="M921.0 1221.1 L967.2 1221.1 L958.0 1313.5 L930.3 1382.9 L893.3 1429.1 L856.3 1406.0 L884.0 1336.6 L907.2 1285.8Z" fill="#68a01a" opacity="0.85" filter="url(#b2)"/>
<path d="M976.5 1221.1 L1078.2 1221.1 L1078.2 1359.8 L1022.7 1406.0 L995.0 1359.8 L967.2 1313.5Z" fill="#b4cc54" opacity="0.75" filter="url(#b2)"/>
<path d="M662.2 1369.0 L847.1 1359.8 L884.0 1429.1 L847.1 1521.5 L708.4 1535.4 L662.2 1452.2Z" fill="#a6b63a" opacity="0.6" filter="url(#b3)"/>
<path d="M431.1 1369.0 L569.8 1350.5 L662.2 1406.0 L616.0 1498.4 L523.5 1567.7 L431.1 1567.7Z" fill="#7aaa22" opacity="0.5" filter="url(#b3)"/>
<path d="M426.5 1550.0 L569.8 1550.0 L592.9 1665.5 L569.8 1781.1 L477.3 1873.5 L408.0 1873.5Z" fill="#9aba3c" opacity="0.6" filter="url(#b3)"/>
<path d="M930.3 1610.1 L1078.2 1610.1 L1078.2 1873.5 L962.6 1873.5 L921.0 1758.0Z" fill="#a2b636" opacity="0.65" filter="url(#b3)"/>
<path d="M583.6 1563.9 L717.7 1568.5 L731.5 1642.4 L662.2 1679.4 L592.9 1656.3Z" fill="#6ca21e" opacity="0.85" filter="url(#b2)"/>
<path d="M791.6 1540.8 L948.8 1540.8 L944.1 1596.2 L893.3 1619.3 L824.0 1614.7 L777.7 1587.0Z" fill="#66a01a" opacity="0.9" filter="url(#b2)"/>
<path d="M569.8 1665.5 L662.2 1656.3 L777.7 1633.2 L800.9 1665.5 L708.4 1702.5 L662.2 1744.1 L592.9 1748.7Z" fill="#b6cc5a" opacity="0.7" filter="url(#b2)"/>
<ellipse cx="500.4" cy="1290.4" rx="69.3" ry="46.2" fill="#a4c040" opacity="0.6" filter="url(#b3)"/>
<ellipse cx="477.3" cy="1341.3" rx="41.6" ry="23.1" fill="#c4d864" opacity="0.7" filter="url(#b2)"/>
<ellipse cx="662.2" cy="1267.3" rx="138.7" ry="37.0" fill="#98b834" opacity="0.5" filter="url(#b3)"/>
<ellipse cx="916.4" cy="1322.8" rx="32.4" ry="92.4" fill="#68a018" opacity="0.85" filter="url(#b2)" transform="rotate(20 916.4 1322.8)"/>
<ellipse cx="870.2" cy="1406.0" rx="37.0" ry="37.0" fill="#6ca41c" opacity="0.6" filter="url(#b2)"/>
<ellipse cx="1008.8" cy="1290.4" rx="41.6" ry="69.3" fill="#c4d864" opacity="0.75" filter="url(#b2)"/>
<ellipse cx="995.0" cy="1276.6" rx="11.6" ry="50.8" fill="#e0f08c" opacity="0.7" filter="url(#b1)" transform="rotate(20 995.0 1276.6)"/>
<ellipse cx="1027.3" cy="1248.8" rx="9.2" ry="27.7" fill="#e0f08c" opacity="0.6" filter="url(#b1)" transform="rotate(20 1027.3 1248.8)"/>
<ellipse cx="754.6" cy="1452.2" rx="92.4" ry="69.3" fill="#a8b83c" opacity="0.6" filter="url(#b3)"/>
<ellipse cx="625.2" cy="1489.2" rx="46.2" ry="74.0" fill="#6ca41c" opacity="0.75" filter="url(#b2)"/>
<ellipse cx="523.5" cy="1406.0" rx="69.3" ry="69.3" fill="#7cac24" opacity="0.5" filter="url(#b3)"/>
<ellipse cx="1008.8" cy="1512.3" rx="27.7" ry="25.4" fill="#78a020" opacity="0.8" filter="url(#b2)"/>
<ellipse cx="976.5" cy="1452.2" rx="23.1" ry="23.1" fill="#80a828" opacity="0.6" filter="url(#b2)"/>
<ellipse cx="893.3" cy="1535.4" rx="46.2" ry="27.7" fill="#70a41c" opacity="0.7" filter="url(#b2)"/>
<ellipse cx="652.9" cy="1619.3" rx="64.7" ry="50.8" fill="#6ca41c" opacity="0.85" filter="url(#b2)"/>
<ellipse cx="870.2" cy="1582.4" rx="78.6" ry="37.0" fill="#64a018" opacity="0.9" filter="url(#b2)"/>
<ellipse cx="860.9" cy="1581.4" rx="12.9" ry="10.2" fill="#a8c048" opacity="0.9" filter="url(#b1)"/>
<ellipse cx="858.6" cy="1581.4" rx="4.6" ry="3.7" fill="#3c94a0"/>
<ellipse cx="860.9" cy="1758.0" rx="27.7" ry="37.0" fill="#6ca01c" opacity="0.8" filter="url(#b2)"/>
<ellipse cx="884.0" cy="1684.0" rx="18.5" ry="23.1" fill="#70a01c" opacity="0.7" filter="url(#b2)"/>
<ellipse cx="616.0" cy="1702.5" rx="50.8" ry="41.6" fill="#b4cc58" opacity="0.7" filter="url(#b2)"/>
<ellipse cx="722.3" cy="1674.8" rx="78.6" ry="16.2" fill="#c0d060" opacity="0.6" filter="url(#b2)" transform="rotate(-25 722.3 1674.8)"/>
<ellipse cx="639.1" cy="1762.6" rx="60.1" ry="18.5" fill="#bcd060" opacity="0.6" filter="url(#b2)" transform="rotate(-20 639.1 1762.6)"/>
<ellipse cx="777.7" cy="1744.1" rx="69.3" ry="13.9" fill="#b4c850" opacity="0.5" filter="url(#b2)" transform="rotate(-15 777.7 1744.1)"/>
<ellipse cx="995.0" cy="1734.9" rx="60.1" ry="115.5" fill="#a4b838" opacity="0.6" filter="url(#b3)"/>
<ellipse cx="495.8" cy="1688.7" rx="69.3" ry="129.4" fill="#9cbc3c" opacity="0.5" filter="url(#b3)"/>
<ellipse cx="491.2" cy="1730.3" rx="32.4" ry="27.7" fill="#8ca030" opacity="0.5" filter="url(#b2)"/>
<ellipse cx="579.0" cy="1760.3" rx="27.7" ry="18.5" fill="#88a438" opacity="0.7" filter="url(#b2)"/>
<ellipse cx="985.7" cy="1619.3" rx="18.5" ry="18.5" fill="#78a424" opacity="0.6" filter="url(#b2)"/>
</g>
</g>
<clipPath id="c9"><rect x="1063.9" y="1222.8" width="639.9" height="638.5"/></clipPath>
<g clip-path="url(#c9)">
<g filter="url(#warp)">
<rect x="1003.9" y="1162.8" width="758.9" height="757.5" fill="#14769e"/>
<path d="M1046.2 1211.9 L1240.3 1211.9 L1212.6 1290.4 L1157.1 1313.5 L1143.3 1382.9 L1120.2 1452.2 L1046.2 1452.2Z" fill="#3e8eb4" opacity="0.75" filter="url(#b3)"/>
<path d="M1545.4 1211.9 L1721.0 1211.9 L1721.0 1359.8 L1647.1 1382.9 L1577.7 1350.5 L1554.6 1290.4Z" fill="#428fb4" opacity="0.75" filter="url(#b3)"/>
<path d="M1600.9 1406.0 L1721.0 1382.9 L1721.0 1581.6 L1577.7 1581.6 L1591.6 1475.3Z" fill="#4c94b6" opacity="0.7" filter="url(#b3)"/>
<path d="M1046.2 1452.2 L1184.9 1429.1 L1277.3 1452.2 L1323.5 1498.4 L1231.1 1521.5 L1138.7 1544.6 L1046.2 1581.6Z" fill="#3a92bc" opacity="0.7" filter="url(#b3)"/>
<path d="M1300.4 1239.6 L1531.5 1239.6 L1554.6 1313.5 L1577.7 1406.0 L1508.4 1429.1 L1416.0 1406.0 L1323.5 1382.9 L1277.3 1313.5Z" fill="#086894" opacity="0.75" filter="url(#b3)"/>
<path d="M1332.8 1406.0 L1462.2 1415.2 L1471.4 1498.4 L1439.1 1581.6 L1323.5 1581.6 L1314.3 1475.3Z" fill="#0c6c90" opacity="0.6" filter="url(#b3)"/>
<path d="M1323.5 1596.2 L1416.0 1573.1 L1600.9 1596.2 L1624.0 1688.7 L1577.7 1804.2 L1462.2 1836.6 L1346.6 1827.3 L1300.4 1758.0 L1323.5 1665.5Z" fill="#5090b0" opacity="0.7" filter="url(#b3)"/>
<ellipse cx="1115.5" cy="1336.6" rx="50.8" ry="115.5" fill="#3c94bc" opacity="0.7" filter="url(#b3)"/>
<ellipse cx="1175.6" cy="1267.3" rx="69.3" ry="37.0" fill="#3c94bc" opacity="0.6" filter="url(#b3)"/>
<ellipse cx="1439.1" cy="1322.8" rx="129.4" ry="83.2" fill="#0c6c98" opacity="0.7" filter="url(#b3)"/>
<ellipse cx="1624.0" cy="1290.4" rx="74.0" ry="64.7" fill="#4498c0" opacity="0.7" filter="url(#b3)"/>
<ellipse cx="1647.1" cy="1475.3" rx="55.5" ry="83.2" fill="#4ca0c4" opacity="0.6" filter="url(#b3)"/>
<ellipse cx="1184.9" cy="1475.3" rx="106.3" ry="46.2" fill="#3c9cc8" opacity="0.6" filter="url(#b3)"/>
<ellipse cx="1221.9" cy="1461.4" rx="23.1" ry="12.0" fill="#6cb8dc" opacity="0.55" filter="url(#b1)"/>
<ellipse cx="1258.8" cy="1535.4" rx="80.9" ry="27.7" fill="#0a5a80" opacity="0.85" filter="url(#b2)"/>
<ellipse cx="1392.9" cy="1452.2" rx="74.0" ry="50.8" fill="#10709c" opacity="0.6" filter="url(#b3)"/>
<ellipse cx="1554.6" cy="1406.0" rx="46.2" ry="46.2" fill="#1474a0" opacity="0.5" filter="url(#b3)"/>
<ellipse cx="1122.5" cy="1429.1" rx="10.2" ry="12.9" fill="#106c90" opacity="0.7" filter="url(#b1)"/>
<ellipse cx="1115.5" cy="1475.3" rx="13.9" ry="6.9" fill="#106c90" opacity="0.7" filter="url(#b1)"/>
<ellipse cx="1258.8" cy="1575.4" rx="80.9" ry="37.0" fill="#0a5a80" opacity="0.9" filter="url(#b2)"/>
<ellipse cx="1249.6" cy="1563.9" rx="23.1" ry="9.2" fill="#4c98c0" opacity="0.7" filter="url(#b1)" transform="rotate(25 1249.6 1563.9)"/>
<ellipse cx="1462.2" cy="1711.8" rx="138.7" ry="115.5" fill="#4c98bc" opacity="0.6" filter="url(#b3)"/>
<ellipse cx="1295.8" cy="1795.0" rx="32.4" ry="60.1" fill="#6cacd0" opacity="0.6" filter="url(#b2)" transform="rotate(-15 1295.8 1795.0)"/>
<ellipse cx="1129.4" cy="1688.7" rx="55.5" ry="46.2" fill="#3088b0" opacity="0.5" filter="url(#b3)"/>
<ellipse cx="1152.5" cy="1804.2" rx="83.2" ry="46.2" fill="#1c78a4" opacity="0.4" filter="url(#b3)"/>
<ellipse cx="1647.1" cy="1781.1" rx="50.8" ry="69.3" fill="#2c8cb8" opacity="0.5" filter="url(#b3)"/>
<ellipse cx="1577.7" cy="1605.5" rx="69.3" ry="37.0" fill="#4c9cc4" opacity="0.5" filter="url(#b3)"/>
<ellipse cx="1392.9" cy="1804.2" rx="55.5" ry="37.0" fill="#14709c" opacity="0.5" filter="url(#b3)"/>
<path d="M1258.8 1684.0 L1268.1 1707.1 L1272.7 1734.9 L1277.3 1767.2 L1286.6 1799.6" fill="none" stroke="#0c5c84" stroke-width="4" stroke-linecap="round" stroke-linejoin="round" opacity="0.7" filter="url(#b1)"/>
<path d="M1693.3 1341.3 L1656.3 1350.5 L1637.8 1373.6 L1614.7 1396.7 L1587.0 1403.7" fill="none" stroke="#106890" stroke-width="3" stroke-linecap="round" stroke-linejoin="round" opacity="0.6" filter="url(#b1)"/>
</g>
</g>
<clipPath id="c10"><rect x="1702.8" y="1222.8" width="163.5" height="638.5"/></clipPath>
<g clip-path="url(#c10)">
<rect x="1642.8" y="1162.8" width="282.5" height="757.5" fill="#049488"/>
<path d="M1697.8 1217.8 L1870.3 1217.8 L1870.3 1435.6 L1808.4 1435.6 L1808.4 1753.7 L1697.8 1753.7Z" fill="#3626a8"/>
<g clip-path="url(#pLclip)"><ellipse cx="1762.6" cy="1313.5" rx="46.2" ry="69.3" fill="#4030b4" opacity="0.5" filter="url(#b3)"/><ellipse cx="1808.8" cy="1406.0" rx="46.2" ry="37.0" fill="#2418a0" opacity="0.6" filter="url(#b3)"/></g>
<clipPath id="pLclip"><path d="M1702.8 1222.8 L1865.3 1222.8 L1865.3 1435.6 L1808.4 1435.6 L1808.4 1753.7 L1702.8 1753.7Z"/></clipPath>
<clipPath id="pclip"><path d="M1702.8 1222.8 L1808.4 1222.8 L1808.4 1753.7 L1702.8 1753.7Z"/></clipPath>
<g clip-path="url(#pclip)"><path d="M1696.8 1595.3 L1812.3 1584.8 L1803.1 1624.2 L1786.1 1655.7 L1775.5 1695.1 L1765.0 1731.9 L1751.9 1755.5 L1696.8 1755.5Z" fill="#4c44cc" opacity="0.8" filter="url(#b2)"/></g>
<path d="M1817.6 1222.9 L1828.1 1242.6 L1833.3 1268.9 L1838.6 1308.3 L1828.1 1347.6" fill="none" stroke="#181098" stroke-width="4" stroke-linecap="round" stroke-linejoin="round" opacity="0.8" filter="url(#b1)"/>
<clipPath id="gclip"><rect x="1808.4" y="1435.6" width="80" height="318.1"/></clipPath>
<g clip-path="url(#gclip)"><rect x="1808.4" y="1435.6" width="61.9" height="318.1" fill="#1cb47c"/><path d="M1828.1 1453.5 L1859.6 1440.4 L1854.3 1466.7 L1845.1 1485.0 L1841.7 1511.3 L1841.2 1537.6 L1838.6 1563.8 L1833.3 1587.5 L1822.8 1603.2 L1817.6 1563.8 L1822.8 1511.3Z" fill="#58dca0" opacity="0.5" filter="url(#b1)"/></g>
<rect x="1702.8" y="1753.7" width="162.5" height="111.6" fill="#28d494"/>
</g>
<clipPath id="c12"><rect x="210.9" y="1860.3" width="217.5" height="256.4"/></clipPath>
<g clip-path="url(#c12)">
<g filter="url(#warp)">
<rect x="150.9" y="1800.3" width="336.5" height="375.4" fill="#b09804"/>
<ellipse cx="255.5" cy="1901.3" rx="46.2" ry="41.6" fill="#9c8808" opacity="0.7" filter="url(#b2)"/>
<ellipse cx="361.8" cy="2012.2" rx="50.8" ry="50.8" fill="#c8b030" opacity="0.6" filter="url(#b2)"/>
<ellipse cx="260.1" cy="2067.7" rx="37.0" ry="32.4" fill="#d8c458" opacity="0.7" filter="url(#b2)"/>
<ellipse cx="269.3" cy="1975.2" rx="23.1" ry="13.9" fill="#d8c458" opacity="0.6" filter="url(#b1)"/>
<ellipse cx="375.6" cy="2081.5" rx="46.2" ry="27.7" fill="#a89408" opacity="0.6" filter="url(#b2)"/>
<ellipse cx="403.4" cy="1919.8" rx="18.5" ry="37.0" fill="#a08c10" opacity="0.5" filter="url(#b2)"/>
<ellipse cx="338.7" cy="1896.6" rx="46.2" ry="23.1" fill="#b8a41c" opacity="0.4" filter="url(#b2)"/>
</g>
</g>
<clipPath id="c13"><rect x="427.4" y="1860.3" width="637.5" height="256.4"/></clipPath>
<g clip-path="url(#c13)">
<g filter="url(#warp)">
<rect x="367.4" y="1800.3" width="756.5" height="375.4" fill="#6ca638"/>
<path d="M745.4 1910.5 L893.3 1915.1 L921.0 1989.1 L893.3 2132.4 L708.4 2132.4 L731.5 2012.2Z" fill="#5a9a36" opacity="0.7" filter="url(#b3)"/>
<path d="M523.5 1956.7 L662.2 1966.0 L685.3 2058.4 L616.0 2132.4 L500.4 2132.4Z" fill="#5e9c36" opacity="0.6" filter="url(#b3)"/>
<path d="M662.2 1882.8 L763.9 1892.0 L754.6 1966.0 L685.3 2002.9 L652.9 1942.9Z" fill="#a2cc6a" opacity="0.6" filter="url(#b3)"/>
<path d="M884.0 1868.9 L1008.8 1873.5 L995.0 1966.0 L921.0 1975.2 L893.3 1919.8Z" fill="#a2cc6a" opacity="0.6" filter="url(#b3)"/>
<path d="M426.5 1864.3 L495.8 1868.9 L486.6 2012.2 L426.5 2035.3Z" fill="#86ba4e" opacity="0.6" filter="url(#b2)"/>
<ellipse cx="509.7" cy="1942.9" rx="18.5" ry="55.5" fill="#4c8c40" opacity="0.8" filter="url(#b2)"/>
<ellipse cx="458.8" cy="1942.9" rx="27.7" ry="69.3" fill="#88bc50" opacity="0.6" filter="url(#b2)"/>
<ellipse cx="824.0" cy="1966.0" rx="78.6" ry="50.8" fill="#5c9c38" opacity="0.7" filter="url(#b3)"/>
<ellipse cx="592.9" cy="2012.2" rx="78.6" ry="50.8" fill="#5c9c38" opacity="0.6" filter="url(#b3)"/>
<ellipse cx="800.9" cy="2067.7" rx="106.3" ry="41.6" fill="#5c9c38" opacity="0.6" filter="url(#b3)"/>
<ellipse cx="708.4" cy="1942.9" rx="50.8" ry="50.8" fill="#a4cc6c" opacity="0.45" filter="url(#b2)"/>
<ellipse cx="939.5" cy="1919.8" rx="55.5" ry="50.8" fill="#a4cc6c" opacity="0.45" filter="url(#b2)"/>
<ellipse cx="1031.9" cy="1901.3" rx="18.5" ry="41.6" fill="#bcdc88" opacity="0.5" filter="url(#b2)" transform="rotate(-10 1031.9 1901.3)"/>
<ellipse cx="639.1" cy="1882.8" rx="69.3" ry="18.5" fill="#7cac48" opacity="0.4" filter="url(#b2)"/>
<ellipse cx="985.7" cy="2035.3" rx="69.3" ry="55.5" fill="#80b44c" opacity="0.4" filter="url(#b3)"/>
<ellipse cx="477.3" cy="2067.7" rx="46.2" ry="37.0" fill="#80b850" opacity="0.4" filter="url(#b3)"/>
<ellipse cx="625.2" cy="1873.5" rx="13.9" ry="13.9" fill="#5c9438" opacity="0.6" filter="url(#b1)"/>
</g>
</g>
<clipPath id="c14"><rect x="1063.9" y="1860.3" width="639.9" height="256.4"/></clipPath>
<g clip-path="url(#c14)">
<g filter="url(#warp)">
<rect x="1003.9" y="1800.3" width="758.9" height="375.4" fill="#06a886"/>
<ellipse cx="1314.3" cy="1882.8" rx="60.1" ry="20.8" fill="#28dcc8" opacity="0.7" filter="url(#b2)"/>
<ellipse cx="1124.8" cy="1919.8" rx="27.7" ry="50.8" fill="#24d0bc" opacity="0.5" filter="url(#b2)"/>
<ellipse cx="1499.2" cy="1942.9" rx="83.2" ry="69.3" fill="#08a07c" opacity="0.6" filter="url(#b3)"/>
<ellipse cx="1614.7" cy="1966.0" rx="23.1" ry="115.5" fill="#30e0c0" opacity="0.5" filter="url(#b2)" transform="rotate(20 1614.7 1966.0)"/>
<ellipse cx="1554.6" cy="2081.5" rx="27.7" ry="46.2" fill="#30e0c8" opacity="0.5" filter="url(#b2)" transform="rotate(20 1554.6 2081.5)"/>
<ellipse cx="1670.2" cy="1882.8" rx="27.7" ry="27.7" fill="#24d8b4" opacity="0.6" filter="url(#b2)"/>
<path d="M1595.9 1967.7 L1629.9 1967.7 L1625.9 1989.7 L1617.9 2009.6 L1607.9 2029.6 L1595.9 2031.6Z" fill="#88c474" opacity="0.9" filter="url(#b1)"/>
</g>
</g>
<g style="mix-blend-mode:overlay" opacity="0.10"><rect x="40" y="670" width="2000" height="1780" fill="#808080" filter="url(#nz)" transform="rotate(28 1040 1560)"/></g>
<g style="mix-blend-mode:overlay" opacity="0.11"><rect x="80" y="780" width="1920" height="1560" fill="#808080" filter="url(#nz2)" transform="rotate(-17 1040 1560)"/></g>
<rect x="210.9" y="999.6" width="217.4" height="223.9" fill="#840000"/>
<clipPath id="c2"><rect x="427.4" y="999.6" width="637.5" height="224.2"/></clipPath>
<g clip-path="url(#c2)">
<g filter="url(#rough)"><path d="M421.1 990.5 L523.5 990.5 L528.8 1004.9 L549.8 1004.9 L557.6 995.8 L570.8 998.4 L568.2 1014.1 L553.7 1026.0 L547.1 1045.7 L552.4 1061.4 L565.5 1077.2 L573.4 1087.7 L564.2 1106.1 L557.6 1116.6 L544.5 1127.1 L534.0 1140.2 L523.5 1153.3 L510.4 1163.8 L506.4 1174.3 L514.3 1183.5 L494.6 1187.5 L489.4 1203.2 L499.9 1211.1 L478.9 1216.3 L460.5 1220.3 L442.1 1229.5 L421.1 1232.1Z" fill="#865000"/></g>
</g>
<mask id="mR2C0" maskUnits="userSpaceOnUse" x="200.9" y="1212.8" width="236.5" height="657.5">
<rect x="200.9" y="1212.8" width="236.5" height="657.5" fill="#fff"/>
<g filter="url(#rough)"><path d="M192.4 1426.8 L213.2 1426.8 L225.2 1425.5 L218.9 1439.4 L223.9 1441.9 L236.5 1431.8 L245.3 1421.7 L249.1 1407.9 L252.9 1416.7 L257.9 1423.0 L265.5 1429.3 L275.6 1434.3 L285.7 1433.1 L290.7 1439.4 L293.2 1448.2 L289.5 1462.1 L292.0 1479.7 L295.8 1498.6 L300.8 1517.5 L305.8 1517.5 L303.3 1498.6 L300.8 1479.7 L299.5 1460.1 L300.8 1448.2 L297.0 1436.9 L298.3 1429.3 L304.6 1421.7 L312.1 1415.4 L324.8 1410.4 L337.4 1409.8 L347.4 1414.2 L352.5 1421.7 L358.8 1431.8 L366.4 1439.4 L381.5 1438.1 L391.6 1433.1 L401.6 1429.3 L411.7 1428.0 L431.9 1426.8 L431.9 1895.7 L192.4 1895.7Z" fill="#000"/>
<path d="M286.9 1315.8 L293.2 1314.6 L300.8 1305.8 L307.1 1305.8 L309.6 1313.3 L314.7 1322.1 L324.8 1324.7 L337.4 1320.9 L344.9 1322.1 L345.6 1331.0 L343.7 1341.1 L352.5 1341.1 L360.0 1356.2 L355.0 1366.3 L346.2 1357.4 L338.6 1352.4 L332.3 1356.2 L318.5 1348.6 L305.8 1343.6 L298.3 1346.1 L290.7 1339.8 L295.8 1328.5 L293.2 1320.9Z" fill="#000"/>
<path d="M323.5 1286.9 L341.1 1285.6 L343.0 1296.9 L337.4 1303.2 L328.5 1305.1 L323.5 1298.2Z" fill="#000"/>
<path d="M384.0 1314.6 L390.3 1305.8 L394.1 1293.2 L401.6 1286.9 L413.0 1286.9 L419.9 1295.7 L431.9 1295.7 L431.9 1305.8 L419.9 1305.8 L409.2 1308.9 L396.6 1315.2 L387.8 1319.6Z" fill="#000"/>
<path d="M366.4 1360.0 L367.6 1348.6 L372.7 1341.1 L384.0 1342.3 L394.1 1334.8 L404.2 1328.5 L406.7 1323.4 L414.3 1324.7 L431.9 1328.5 L431.9 1365.0 L406.7 1365.0 L397.9 1363.7 L389.0 1354.9 L379.0 1351.1 L368.9 1353.7Z" fill="#000"/>
<path d="M198.7 1387.7 L222.6 1387.7 L223.9 1394.0 L217.6 1404.1 L221.4 1411.6 L216.3 1423.0 L198.7 1423.0Z" fill="#000" opacity="0.7"/>
<ellipse cx="396.6" cy="1269.2" rx="5.7" ry="2.8" fill="#000" transform="rotate(35 396.6 1269.2)"/>
<ellipse cx="357.5" cy="1314.0" rx="5.0" ry="2.3" fill="#000" transform="rotate(15 357.5 1314.0)"/>
<ellipse cx="290.7" cy="1300.1" rx="4.4" ry="2.3" fill="#000" opacity="0.8" transform="rotate(35 290.7 1300.1)"/>
<ellipse cx="298.3" cy="1353.0" rx="4.0" ry="2.8" fill="#000" opacity="0.8" transform="rotate(30 298.3 1353.0)"/>
<ellipse cx="384.0" cy="1370.0" rx="4.4" ry="2.8" fill="#000" opacity="0.6" transform="rotate(-40 384.0 1370.0)"/>
<ellipse cx="268.7" cy="1421.7" rx="3.2" ry="2.5" fill="#000" opacity="0.6"/>
<ellipse cx="409.2" cy="1259.7" rx="3.8" ry="1.9" fill="#000" opacity="0.6" transform="rotate(30 409.2 1259.7)"/>
<ellipse cx="334.8" cy="1314.6" rx="2.8" ry="2.8" fill="#000" opacity="0.6"/></g>
</mask>
<clipPath id="c6"><rect x="210.9" y="1222.8" width="217.5" height="638.5"/></clipPath>
<g clip-path="url(#c6)">
<g mask="url(#mR2C0)"><rect x="210.9" y="1222.8" width="216.5" height="637.5" fill="#865000"/></g>
</g>
<clipPath id="c8"><rect x="427.4" y="1222.8" width="637.5" height="638.5"/></clipPath>
<g clip-path="url(#c8)">
<g filter="url(#rough)"><path d="M415.0 1225.0 L462.9 1227.6 L469.2 1245.2 L472.9 1256.6 L465.4 1257.8 L457.8 1256.6 L445.2 1261.6 L436.4 1260.3 L445.2 1270.4 L459.1 1280.5 L445.2 1280.5 L440.2 1286.8 L426.3 1294.4 L415.0 1294.4Z" fill="#688a18"/>
<path d="M415.0 1363.7 L454.0 1367.5 L464.1 1358.7 L475.5 1351.1 L485.5 1344.8 L495.6 1347.3 L499.4 1358.7 L500.7 1375.0 L495.6 1382.6 L480.5 1387.7 L470.4 1392.7 L457.8 1399.0 L445.2 1405.3 L435.1 1412.9 L433.9 1421.7 L426.3 1426.7 L415.0 1426.7Z" fill="#688a18"/>
<path d="M415.0 1320.8 L438.9 1322.1 L442.7 1329.7 L432.6 1333.5 L415.0 1332.2Z" fill="#688a18"/></g>
<g filter="url(#b0)"><path d="M803.4 1618.7 L816.6 1626.5 L821.8 1637.6 L814.5 1650.7 L802.9 1661.2 L796.1 1674.3 L779.8 1684.8 L758.8 1693.2 L737.8 1701.1 L714.1 1709.0 L702.3 1715.0 L697.1 1698.0 L708.9 1677.0 L732.5 1675.6 L753.5 1663.8 L771.9 1648.1 L790.3 1629.7Z" fill="#5a8a26"/><path d="M925.5 1625.7 L936.0 1632.3 L940.0 1645.4 L936.0 1663.8 L933.4 1684.8 L924.2 1698.0 L916.3 1713.7 L909.8 1720.3 L904.5 1708.5 L907.2 1687.5 L909.8 1663.8 L913.7 1642.8 L917.7 1629.7Z" fill="#48a060"/><path d="M932.1 1715.8 L940.5 1725.5 L938.7 1735.3 L929.5 1737.4Z" fill="#40a870"/></g>
</g>
<clipPath id="c11"><rect x="1702.8" y="1222.8" width="163.5" height="638.5"/></clipPath>
<g clip-path="url(#c11)">
<g clip-path="url(#pclip)"><path d="M1805.0 1622.9 L1812.3 1616.3 L1812.3 1755.5 L1751.9 1755.5 L1765.6 1731.9 L1776.1 1695.1 L1786.6 1655.7Z" fill="#0804ac"/></g>
<g clip-path="url(#gclip)"><g filter="url(#rough)"><path d="M1870.1 1419.4 L1862.7 1445.7 L1854.3 1466.7 L1845.1 1485.0 L1841.7 1511.3 L1843.8 1534.9 L1862.2 1537.6 L1843.8 1548.1 L1839.1 1563.8 L1835.9 1587.5 L1828.1 1600.6 L1817.6 1612.4 L1801.8 1624.2 L1791.3 1642.6 L1791.3 1800.2 L1870.1 1800.2Z" fill="#049488"/></g></g>
<g filter="url(#rough)"><path d="M1752.4 1747.6 L1738.8 1776.5 L1719.1 1805.4 L1708.6 1839.6 L1702.8 1863.2 L1699.4 1892.1 L1870.1 1892.1 L1870.1 1747.6Z" fill="#049488"/></g>
</g>
<clipPath id="c15"><rect x="1063.9" y="1860.3" width="639.9" height="256.4"/></clipPath>
<g clip-path="url(#c15)">
<g filter="url(#rough)"><path d="M1663.8 1857.9 L1711.7 1857.9 L1711.7 1967.7 L1635.8 1967.7 L1640.8 1949.7 L1653.8 1919.8 L1663.8 1895.9 L1671.8 1879.9Z" fill="#0898a4" opacity="0.92"/></g>
<clipPath id="oclip2"><rect x="1596.0" y="1967.7" width="200" height="200"/></clipPath>
<g clip-path="url(#oclip2)"><g filter="url(#rough)"><path d="M1629.9 1965.7 L1711.7 1965.7 L1711.7 2121.4 L1593.9 2121.4 L1607.9 2029.6 L1617.9 2009.6 L1625.9 1989.7Z" fill="#04987c"/></g></g>
<g filter="url(#rough)"><path d="M1578.0 2095.4 L1595.9 2067.5 L1595.9 2121.4 L1570.0 2121.4Z" fill="#0c98a8" opacity="0.85"/></g>
</g>
<clipPath id="c16"><rect x="1702.8" y="1860.3" width="163.5" height="256.4"/></clipPath>
<g clip-path="url(#c16)">
<rect x="1642.8" y="1800.3" width="282.5" height="375.4" fill="#049488"/>
<path d="M1699.7 1826.0 L1717.7 1826.0 L1711.7 1859.9 L1705.7 1881.9 L1699.7 1889.9Z" fill="#28d8a0" opacity="0.8" filter="url(#b1)"/>
<ellipse cx="1711.7" cy="1929.8" rx="12.0" ry="79.8" fill="#0498a0" opacity="0.5" filter="url(#b2)" transform="rotate(10 1711.7 1929.8)"/>
<ellipse cx="1829.4" cy="1969.7" rx="29.9" ry="119.7" fill="#048c84" opacity="0.4" filter="url(#b3)"/>
<g filter="url(#rough)"><ellipse cx="1752.6" cy="1991.7" rx="24.9" ry="69.9" fill="#14a878" opacity="0.95" transform="rotate(10 1752.6 1991.7)"/></g>
<ellipse cx="1759.6" cy="1969.7" rx="14.0" ry="49.9" fill="#2cc48c" opacity="0.6" filter="url(#b1)" transform="rotate(10 1759.6 1969.7)"/>
<ellipse cx="1739.6" cy="2059.5" rx="18.0" ry="10.0" fill="#38d8a0" opacity="0.6" filter="url(#b1)"/>
<ellipse cx="1749.6" cy="1923.8" rx="12.0" ry="10.0" fill="#088c80" opacity="0.6" filter="url(#b1)"/>
</g>
</g>
<path d="M947.3 1344.5 L962.3 1352.9 L975.4 1360.8 L976.7 1366.0 L983.3 1371.3 L986.5 1384.4 L985.9 1397.5 L983.8 1410.7 L976.7 1426.4 L970.2 1436.9 L964.9 1447.4 L960.5 1454.8 L953.1 1452.7 L947.9 1451.4 L941.3 1454.3 L945.2 1444.8 L949.2 1434.3 L950.5 1423.8 L947.3 1413.3 L947.9 1400.2 L955.7 1389.7 L951.8 1379.2 L948.4 1368.7 L947.9 1355.5Z" fill="#58d0f8" stroke="#3868e8" stroke-width="1.6" stroke-linejoin="round"/>
<g fill="none" stroke="#000" stroke-width="6.2" stroke-linejoin="round">
<rect x="423.5" y="1226.4" width="636.2" height="630.9"/>
<rect x="1063.3" y="1226.4" width="636.3" height="630.9"/>
</g>
<rect x="210.9" y="999.6" width="1654.4" height="1116.1" fill="none" stroke="#000" stroke-width="4.5" stroke-linejoin="round"/>
<g stroke="#000" stroke-width="4" fill="none">
<path d="M535.3 982.6 V999.6"/><path d="M535.3 2115.7 V2133.2"/>
<path d="M959.9 982.6 V999.6"/><path d="M959.9 2115.7 V2133.2"/>
<path d="M1384.8 982.6 V999.6"/><path d="M1384.8 2115.7 V2133.2"/>
<path d="M1809.9 982.6 V999.6"/><path d="M1809.9 2115.7 V2133.2"/>
<path d="M193.9 1222.9 H210.9"/><path d="M1865.3 1222.9 H1882.3"/>
<path d="M193.9 1540.5 H210.9"/><path d="M1865.3 1540.5 H1882.3"/>
<path d="M193.9 1860.4 H210.9"/><path d="M1865.3 1860.4 H1882.3"/>
</g>
<g font-family='"Liberation Sans", Arial, Helvetica, sans-serif' font-size="25.3" fill="#000">
<text x="533.8" y="977.3" text-anchor="middle">34°0'0"E</text>
<text x="533.8" y="2158.6" text-anchor="middle">34°0'0"E</text>
<text x="958.4" y="977.3" text-anchor="middle">36°0'0"E</text>
<text x="958.4" y="2158.6" text-anchor="middle">36°0'0"E</text>
<text x="1383.3" y="977.3" text-anchor="middle">38°0'0"E</text>
<text x="1383.3" y="2158.6" text-anchor="middle">38°0'0"E</text>
<text x="1808.4" y="977.3" text-anchor="middle">40°0'0"E</text>
<text x="1808.4" y="2158.6" text-anchor="middle">40°0'0"E</text>
<text x="191" y="1231.8000000000002" text-anchor="end">1°30'0"S</text>
<text x="1884.5" y="1231.8000000000002" text-anchor="start">1°30'0"S</text>
<text x="191" y="1549.4" text-anchor="end">3°0'0"S</text>
<text x="1884.5" y="1549.4" text-anchor="start">3°0'0"S</text>
<text x="191" y="1869.3000000000002" text-anchor="end">4°30'0"S</text>
<text x="1884.5" y="1869.3000000000002" text-anchor="start">4°30'0"S</text>
</g>
<g font-family='"Liberation Sans", Arial, Helvetica, sans-serif' font-size="30.6" fill="#000">
<text x="761" y="1428">Lake Natron</text>
<text x="1329" y="1622.6">Lake Chala</text>
<text x="1203.5" y="1680.9">Chemka Springs</text>
</g>
<circle cx="1319.7" cy="1609.2" r="2.2" fill="#4c8cff"/>
<circle cx="1212.3" cy="1635.6" r="6" fill="#ff0000" stroke="#000" stroke-width="2.6"/>
<rect x="1311.6" y="2067.4" width="26.0" height="17.2" fill="#000"/>
<rect x="1359.7" y="2067.4" width="26.0" height="17.2" fill="#000"/>
<rect x="1407.8" y="2067.4" width="97.1" height="17.2" fill="#000"/>
<rect x="1599.1" y="2067.4" width="97.1" height="17.2" fill="#000"/>
<rect x="1311.6" y="2067.4" width="384.6" height="2.8" fill="#000"/>
<rect x="1311.6" y="2081.7999999999997" width="384.6" height="2.8" fill="#000"/>
<g font-family='"Liberation Sans", Arial, Helvetica, sans-serif' font-size="30.6" fill="#000">
<text x="1311.1" y="2053.2" text-anchor="middle">0</text>
<text x="1359.2" y="2053.2" text-anchor="middle">25</text>
<text x="1407.2" y="2053.2" text-anchor="middle">50</text>
<text x="1502.4" y="2053.2" text-anchor="middle">100</text>
<text x="1598.5" y="2053.2" text-anchor="middle">150</text>
<text x="1693.4" y="2053.2" text-anchor="middle">200</text>
<text x="1702.3" y="2083.6">Kilometers</text>
</g>
<text x="262" y="1987.3" text-anchor="middle" font-family='"Liberation Serif", "Times New Roman", serif' font-size="33" fill="#000">N</text>
<path d="M261.4 2005.4 L292.6 2095.8 L261.4 2077.2 L230.4 2095.8 Z" fill="#000"/>
</g>
<text x="214" y="2201" font-family='"Liberation Sans", Arial, Helvetica, sans-serif' font-weight="700" font-size="34" fill="#000" stroke="#000" stroke-width="0.5">Water Equivalent Height (cm)</text>
<rect x="214.9" y="2249.4" width="85.4" height="90" fill="url(#ramp)"/>
<rect x="300.3" y="2248.6" width="7.5" height="2" fill="#999"/>
<rect x="300.3" y="2291.5" width="7.5" height="5" fill="#999"/>
<g font-family='"Liberation Sans", Arial, Helvetica, sans-serif' font-size="33.5" fill="#000">
<text x="325.5" y="2261.2">High: 30.0</text>
<text x="325.5" y="2352">Low: - 26.1</text>
</g>
</svg></body></html>
